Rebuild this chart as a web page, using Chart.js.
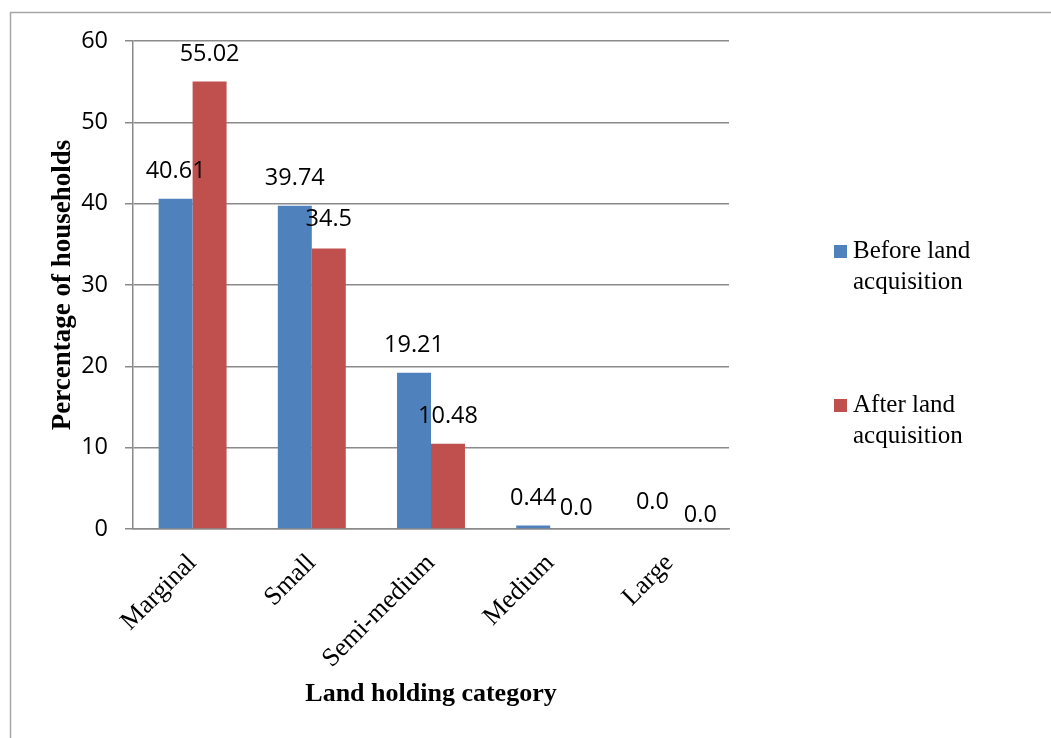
<!DOCTYPE html>
<html>
<head>
<meta charset="utf-8">
<script src="https://cdn.jsdelivr.net/npm/chart.js@4/dist/chart.umd.min.js"></script>
<style>
  html, body { margin: 0; padding: 0; background: #ffffff; }
  #wrap { width: 1051px; height: 738px; }
</style>
</head>
<body>
<div id="wrap"><canvas id="c" width="1051" height="738"></canvas></div>
<script>
// ---- data ----
const categories = ['Marginal', 'Small', 'Semi-medium', 'Medium', 'Large'];
const seriesNames = ['Before land acquisition', 'After land acquisition'];
const beforeValues = [40.61, 39.74, 19.21, 0.44, 0.0];
const afterValues = [55.02, 34.5, 10.48, 0.0, 0.0];
const yTicks = [0, 10, 20, 30, 40, 50, 60];

const serif = "'Liberation Serif', 'Times New Roman', serif";
const sans = "'Open Sans', 'Liberation Sans', sans-serif";
const gridColor = '#8a8a8a';

function fmt(v) { return v === 0 ? '0.0' : String(v); }

// label nudges (dx, dy) per dataset/category, relative to default placement
const labelNudges = [
  [[0,0],[0,0],[0,0],[0,0],[0,0]],
  [[0,0],[0,-2],[0,0],[9,6],[14,13]]
];

const frameAndLabels = {
  id: 'frameAndLabels',
  beforeDraw(chart) {
    const ctx = chart.ctx;
    ctx.save();
    ctx.fillStyle = '#ffffff';
    ctx.fillRect(0, 0, chart.width, chart.height);
    ctx.strokeStyle = '#a6a6a6';
    ctx.lineWidth = 1.5;
    ctx.beginPath();
    ctx.moveTo(10.5, 738);
    ctx.lineTo(10.5, 12.5);
    ctx.lineTo(1051, 12.5);
    ctx.stroke();
    ctx.restore();
  },
  afterDatasetsDraw(chart) {
    const ctx = chart.ctx;
    ctx.save();
    ctx.font = '23.5px ' + sans;
    ctx.fillStyle = '#000000';
    ctx.textAlign = 'center';
    ctx.textBaseline = 'middle';
    chart.data.datasets.forEach((ds, di) => {
      const meta = chart.getDatasetMeta(di);
      meta.data.forEach((bar, i) => {
        const n = labelNudges[di][i];
        ctx.fillText(fmt(ds.data[i]), bar.x + n[0], bar.y - 27 + n[1]);
      });
    });
    ctx.restore();
  },
  afterDraw(chart) {
    const ctx = chart.ctx;
    ctx.save();
    ctx.font = '25px ' + serif;
    ctx.textBaseline = 'middle';
    ctx.textAlign = 'left';
    const tops = [245, 399];
    chart.data.datasets.forEach((ds, di) => {
      const y0 = tops[di];
      ctx.fillStyle = ds.backgroundColor;
      ctx.fillRect(834, y0, 13, 13);
      ctx.fillStyle = '#000000';
      const words = ds.label.split(' ');
      const lines = [words.slice(0, -1).join(' '), words[words.length - 1]];
      lines.forEach((t, li) => ctx.fillText(t, 853, y0 + 6 + li * 31));
    });
    ctx.restore();
  }
};

new Chart(document.getElementById('c'), {
  type: 'bar',
  data: {
    labels: categories,
    datasets: [
      { label: seriesNames[0], data: beforeValues, backgroundColor: '#4F81BD' },
      { label: seriesNames[1], data: afterValues, backgroundColor: '#C0504D' }
    ]
  },
  options: {
    responsive: false,
    devicePixelRatio: 1,
    animation: false,
    layout: { padding: { left: 0, top: 41, right: 322, bottom: 0 } },
    plugins: { legend: { display: false }, tooltip: { enabled: false } },
    datasets: { bar: { categoryPercentage: 0.57, barPercentage: 1.0 } },
    scales: {
      x: {
        grid: { display: false, drawTicks: false },
        border: { display: true, color: gridColor, width: 1.5 },
        ticks: {
          autoSkip: false, minRotation: 45, maxRotation: 45,
          color: '#000000', font: { family: serif, size: 26 }, padding: 19
        },
        title: {
          display: true, text: 'Land holding category', color: '#000000',
          font: { family: serif, size: 26, weight: 'bold' },
          padding: { top: 0, bottom: 28 }
        },
        afterFit(scale) { scale.height = 209; }
      },
      y: {
        min: 0, max: 60,
        afterBuildTicks(scale) { scale.ticks = yTicks.map(v => ({ value: v })); },
        grid: { color: gridColor, lineWidth: 1.5, drawTicks: true, tickLength: 8, tickColor: gridColor },
        border: { display: true, color: gridColor, width: 1.5 },
        ticks: { color: '#000000', font: { family: sans, size: 23.5 }, padding: 17 },
        title: {
          display: true, text: 'Percentage of households', color: '#000000',
          font: { family: serif, size: 27, weight: 'bold' },
          padding: { top: 47, bottom: 0 }
        },
        afterFit(scale) { scale.width = 133; }
      }
    }
  },
  plugins: [frameAndLabels]
});
</script>
</body>
</html>
